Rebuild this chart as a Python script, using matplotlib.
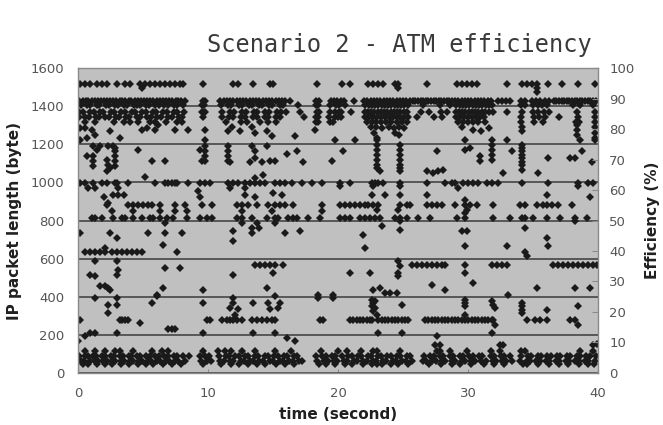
import matplotlib
matplotlib.use("Agg")
import matplotlib.pyplot as plt

plt.rcParams['font.family'] = ['DejaVu Sans']

# ---- packet trace: time (s) and IP packet length (byte) ----
# maximum-size packets
top_len = 1517
top_t = [0.15, 0.54, 0.92, 1.44, 1.82, 2.2, 2.97, 3.6, 4.0, 4.77, 5.15, 5.54, 5.92, 6.3,
         6.7, 7.08, 7.46, 7.85, 8.1, 9.64, 11.95, 12.33, 13.49, 14.77, 15.03, 18.36, 20.28,
         20.92, 22.33, 22.71, 23.1, 23.48, 24.38, 24.64, 26.82, 29.12, 29.51, 29.9, 30.28,
         30.66, 32.97, 34.12, 34.51, 34.9, 35.28, 36.18, 37.2, 38.48, 39.77]

# dense band of large packets
band_1430_t = [0.1, 0.35, 0.6, 0.8, 1.05, 1.3, 1.5, 1.75, 2.0, 2.2, 2.45, 2.7, 2.95, 3.2, 3.4,
               3.65, 3.9, 4.1, 4.35, 4.6, 4.85, 5.1, 5.3, 5.55, 5.8, 6.05, 6.3, 6.5, 6.75, 7.0,
               7.25, 7.5, 7.7, 7.95, 8.2, 9.6, 9.75, 10.95, 11.2, 11.45, 11.7, 11.95, 12.2,
               12.45, 12.7, 12.95, 13.2, 13.45, 13.7, 13.95, 14.2, 14.45, 14.7, 14.95, 15.2,
               15.45, 15.7, 15.95, 16.3, 18.3, 18.5, 19.45, 19.7, 19.95, 20.2, 20.45, 21.2,
               22.0, 22.25, 22.5, 22.75, 23.0, 23.25, 23.5, 23.75, 24.0, 24.25, 24.5, 24.75,
               25.0, 25.25, 25.5, 25.75, 25.95, 26.15, 26.35, 26.55, 26.75, 26.95, 27.15,
               27.35, 27.55, 27.75, 27.95, 28.15, 28.35, 28.55, 28.75, 29.0, 29.25, 29.5,
               29.75, 30.0, 30.25, 30.5, 30.75, 31.0, 31.25, 31.5, 31.75, 32.3, 32.6, 32.9,
               33.2, 34.1, 34.4, 34.9, 35.2, 35.5, 35.9, 36.2, 36.6, 36.8, 37.0, 37.2, 37.4,
               37.6, 37.8, 38.0, 38.2, 38.4, 38.6, 38.8, 39.0, 39.2, 39.4, 39.6, 39.85]
band_1405_t = [0.2, 0.7, 0.95, 1.45, 1.65, 2.15, 2.4, 2.85, 3.1, 3.55, 3.8, 4.3, 4.5, 4.75,
               5.25, 5.45, 5.95, 6.2, 6.65, 6.9, 7.4, 7.6, 8.1, 9.55, 9.7, 11.0, 11.55, 11.8,
               12.35, 12.6, 13.15, 13.4, 13.9, 14.15, 14.7, 14.95, 15.5, 15.8, 16.9, 18.3,
               18.45, 19.4, 19.85, 20.1, 20.55, 22.1, 22.35, 22.6, 22.85, 23.1, 23.35, 23.6,
               23.85, 24.1, 24.35, 24.6, 24.85, 25.1, 25.35, 26.55, 27.85, 28.6, 29.1, 29.35,
               29.6, 29.85, 30.1, 30.35, 30.6, 30.85, 31.1, 31.35, 31.6, 31.85, 34.1, 34.35,
               35.0, 35.35, 35.7, 36.1, 38.1, 38.6, 39.6]
band_1370_t = [0.1, 0.4, 0.9, 1.2, 1.7, 1.95, 2.5, 2.75, 3.3, 3.6, 4.15, 4.4, 4.95, 5.2,
               5.75, 6.0, 6.55, 6.85, 7.35, 7.65, 8.15, 9.5, 9.65, 9.8, 11.1, 11.7, 12.0,
               12.6, 12.9, 13.5, 13.8, 14.4, 14.7, 15.3, 15.6, 16.0, 17.1, 18.35, 18.5,
               19.35, 19.8, 20.05, 20.25, 21.0, 22.05, 22.3, 22.55, 22.8, 23.05, 23.3, 23.55,
               23.8, 24.05, 24.3, 24.55, 24.8, 25.05, 25.3, 26.4, 27.0, 27.9, 28.4, 29.05,
               29.3, 29.55, 29.8, 30.05, 30.3, 30.55, 30.8, 31.05, 31.3, 31.6, 31.9, 33.0,
               34.15, 35.0, 35.4, 35.85, 36.25, 38.4, 39.8]
band_1345_t = [0.05, 0.55, 0.85, 1.35, 1.6, 2.1, 2.35, 2.9, 3.15, 3.7, 3.95, 4.5, 4.8,
               5.3, 5.6, 6.1, 6.4, 6.9, 7.2, 7.75, 8.0, 9.6, 11.05, 11.65, 11.95, 12.55,
               12.85, 13.45, 13.75, 14.35, 14.65, 15.25, 15.55, 17.4, 18.3, 18.45, 19.3,
               19.75, 20.0, 20.2, 22.1, 22.4, 22.7, 23.0, 23.3, 23.6, 23.9, 24.2, 24.5,
               24.8, 25.1, 25.4, 26.1, 27.4, 28.0, 29.1, 29.4, 29.7, 30.0, 30.3, 30.6, 30.9,
               31.2, 34.1, 35.05, 35.45, 35.9, 37.0, 38.45, 39.75]
band_1318_t = [0.5, 1.3, 2.8, 3.5, 4.0, 4.6, 5.5, 5.9, 6.8, 7.6, 8.0, 11.4, 12.5, 13.0,
               14.0, 14.6, 15.2, 18.3, 18.45, 19.4, 19.6, 22.2, 22.6, 22.9, 23.3, 23.7, 24.1,
               24.5, 24.9, 25.3, 29.2, 29.6, 30.0, 30.4, 30.8, 31.3, 34.1, 35.1, 35.8, 38.3,
               38.5, 39.75]

# recurring packet sizes in the middle range
row_1000_t = [0.15, 0.54, 1.18, 1.82, 2.2, 2.85, 3.0, 3.87, 5.92, 6.69, 6.95, 7.2, 7.46, 7.6,
              8.49, 9.38, 9.77, 10.15, 11.56, 11.95, 12.33, 12.85, 13.23, 13.62, 14.0, 14.38,
              15.15, 15.54, 15.92, 16.44, 17.2, 17.97, 18.74, 20.15, 20.92, 22.59, 22.84,
              23.1, 23.48, 24.77, 26.82, 28.23, 28.74, 29.0, 29.64, 30.02, 30.41, 30.79,
              31.43, 31.82, 32.33, 34.12, 36.18, 38.48, 39.25, 39.64]
row_880_t = [2.2, 3.87, 4.26, 4.64, 5.03, 5.41, 5.67, 6.31, 7.46, 8.23, 9.51, 10.28, 12.2,
             12.59, 13.1, 13.74, 14.64, 15.15, 15.54, 15.92, 16.56, 18.74, 20.15, 20.54,
             20.92, 21.3, 21.69, 22.07, 22.33, 22.71, 23.1, 24.77, 25.28, 25.53, 26.82, 27.2,
             27.59, 27.97, 29.0, 29.77, 30.15, 30.66, 31.95, 34.0, 34.38, 35.28, 35.79,
             36.05, 36.43, 36.95, 37.97]
row_816_t = [1.05, 1.31, 1.82, 2.72, 3.36, 3.62, 4.26, 4.9, 5.54, 5.79, 6.31, 6.82, 7.33,
             8.36, 9.38, 9.9, 10.28, 12.2, 12.59, 13.36, 14.51, 15.15, 15.41, 16.18, 16.56,
             16.82, 17.72, 18.62, 20.15, 20.54, 20.92, 21.69, 22.07, 22.46, 22.84, 23.23,
             24.38, 24.77, 25.28, 26.18, 27.07, 29.12, 29.77, 31.95, 33.23, 34.12, 34.38,
             35.02, 36.05, 37.07, 38.23, 39.12]
row_637_t = [0.54, 0.92, 1.31, 1.69, 2.08, 2.59, 2.97, 3.36, 3.74, 4.13, 4.51, 4.9, 7.59]
row_567_t = [13.62, 14.0, 14.38, 14.77, 15.15, 15.79, 25.66, 26.05, 26.43, 26.82, 27.2,
             27.59, 27.97, 28.23, 29.77, 31.82, 32.2, 32.59, 32.97, 36.56, 36.95, 37.33,
             37.72, 38.1, 38.48, 38.87, 39.25, 39.64, 39.9]
row_275_t = [0.15, 3.23, 3.36, 3.62, 3.87, 9.9, 10.15, 11.05, 11.44, 11.69, 11.95, 12.2,
             12.59, 13.36, 13.74, 14.13, 14.51, 14.9, 15.15, 18.62, 18.87, 20.92, 21.18,
             21.43, 21.69, 21.95, 22.2, 22.46, 22.59, 23.1, 23.36, 23.61, 23.87, 24.12,
             24.38, 24.64, 24.89, 25.15, 25.41, 26.69, 26.95, 27.2, 27.46, 27.71, 27.97,
             28.23, 28.48, 28.74, 29.0, 29.25, 29.51, 29.77, 30.02, 30.28, 30.53, 30.79,
             31.05, 31.3, 31.56, 31.82, 31.95, 34.51, 35.15, 35.53, 36.05, 37.84, 38.23]
row_231_t = [6.95, 7.2, 7.46]

# isolated packets (time, length)
scatter_pts = [
    (4.9, 1496), (24.64, 1496), (35.28, 1496), (35.28, 1478),
    (0.15, 1285), (0.54, 1285), (1.05, 1277), (0.15, 1224), (0.67, 1233), (1.31, 1250),
    (2.46, 1268), (3.23, 1233), (4.9, 1277), (5.28, 1285), (5.92, 1277), (6.18, 1303),
    (7.46, 1277), (8.49, 1277), (9.77, 1277), (9.77, 1224), (11.56, 1268), (12.46, 1268),
    (11.82, 1294), (13.36, 1294), (13.62, 1259), (14.51, 1268), (14.9, 1242),
    (16.69, 1242), (18.23, 1277), (19.77, 1224),
    (22.5, 1290), (22.9, 1290), (23.4, 1285), (23.9, 1290), (24.3, 1285), (24.7, 1290),
    (25.1, 1285), (22.8, 1260), (23.0, 1233), (24.4, 1260), (24.7, 1250),
    (34.12, 1290), (34.12, 1268), (38.35, 1303), (38.35, 1277), (38.35, 1250),
    (39.77, 1294), (39.77, 1259), (39.77, 1233), (29.5, 1290), (30.4, 1277), (31.0, 1268),
    (31.6, 1285),
    (1.18, 1189), (1.44, 1172), (1.69, 1189), (2.33, 1189), (2.72, 1189), (2.85, 1180),
    (2.85, 1163), (4.64, 1172), (9.38, 1172), (9.77, 1189), (9.77, 1163), (9.77, 1137),
    (9.77, 1114), (11.56, 1189), (11.56, 1163), (11.56, 1137), (11.56, 1114),
    (13.36, 1189), (13.62, 1163), (14.51, 1189), (16.05, 1149), (16.82, 1163),
    (0.67, 1137), (1.18, 1137), (1.18, 1114), (1.18, 1084), (2.2, 1120), (2.85, 1137),
    (2.85, 1114), (2.85, 1084), (2.33, 1093), (2.46, 1075), (5.67, 1114), (6.69, 1114),
    (9.51, 1114), (11.69, 1110), (13.23, 1110), (13.62, 1128), (14.13, 1110),
    (14.77, 1114), (15.15, 1114), (17.33, 1110), (19.51, 1114), (2.2, 1058),
    (5.15, 1031), (13.62, 1023), (14.26, 1040), (0.8, 970), (1.31, 970), (3.1, 970),
    (11.69, 970), (12.85, 970), (9.26, 953), (2.0, 926), (2.72, 935), (3.1, 935),
    (3.5, 935), (9.4, 926), (12.85, 935), (13.62, 926), (15.03, 944), (15.67, 935),
    (2.33, 890), (2.59, 848), (4.26, 848), (6.31, 848), (7.46, 848), (8.36, 848),
    (12.59, 848), (14.9, 848), (18.74, 848),
    (6.69, 786), (12.59, 786), (13.74, 786), (15.15, 786), (13.36, 760), (13.9, 760),
    (0.15, 734), (2.46, 734), (5.41, 734), (6.69, 734), (7.97, 734), (11.95, 743),
    (13.36, 734), (15.92, 734), (17.08, 743), (2.97, 708), (11.95, 690), (6.56, 672),
    (2.08, 655), (1.31, 585), (2.97, 585), (3.1, 541), (6.69, 550), (7.85, 550),
    (0.92, 515), (1.31, 506), (11.95, 515), (15.03, 524), (2.97, 515),
    (1.69, 454), (2.08, 454), (2.33, 445), (2.46, 436), (6.56, 445), (14.51, 445),
    (9.64, 436), (6.05, 410), (6.05, 401), (15.15, 401), (18.49, 410), (18.49, 392),
    (19.64, 410), (19.64, 392), (1.31, 392), (2.97, 392), (11.95, 392), (5.67, 366),
    (9.64, 366), (11.95, 366), (13.49, 366), (14.64, 366), (15.54, 366), (2.33, 357),
    (2.97, 357), (11.69, 340), (15.41, 340), (12.33, 336), (14.77, 336), (2.33, 313),
    (12.08, 305), (4.77, 261), (0.92, 208), (1.31, 208), (2.97, 208), (9.64, 208),
    (13.49, 208), (15.15, 208), (0.54, 191), (16.05, 182), (0.03, 165), (16.69, 165),
    (21.3, 1224), (22.97, 1224), (29.77, 1224), (31.82, 1224), (32.97, 1224),
    (38.61, 1224), (39.77, 1224),
    (22.97, 1198), (22.97, 1172), (22.97, 1146), (22.97, 1119), (22.97, 1093),
    (22.97, 1075), (24.77, 1198), (24.77, 1172), (24.77, 1146), (24.77, 1119),
    (24.77, 1093), (24.77, 1075), (31.82, 1198), (31.82, 1172), (31.82, 1146),
    (31.82, 1120), (34.12, 1198), (34.12, 1180), (34.12, 1163), (34.12, 1146),
    (34.12, 1128), (34.12, 1110), (34.12, 1093), (34.12, 1067),
    (20.35, 1163), (27.59, 1163), (29.77, 1172), (30.15, 1180), (30.92, 1137),
    (30.92, 1114), (33.36, 1163), (36.18, 1128), (37.84, 1128), (38.23, 1128),
    (38.74, 1163), (39.51, 1110),
    (26.82, 1058), (27.33, 1049), (27.71, 1058), (28.1, 1067), (32.72, 1049),
    (35.4, 1049), (23.23, 1058), (24.77, 1058),
    (20.15, 979), (22.71, 979), (24.77, 979), (29.25, 970), (38.48, 979),
    (22.59, 935), (23.61, 935), (24.77, 935), (26.82, 935), (36.05, 935), (39.38, 926),
    (29.77, 909), (22.97, 856), (24.64, 856), (29.9, 856), (29.77, 839), (24.77, 795),
    (38.23, 795), (23.36, 769), (24.77, 751), (29.51, 743), (29.9, 743), (21.95, 725),
    (34.38, 760), (36.05, 708), (29.77, 664), (32.97, 664), (36.18, 664), (22.07, 655),
    (34.38, 637), (34.51, 611), (24.64, 585), (24.77, 559), (20.92, 524), (22.46, 524),
    (24.64, 524), (29.77, 524), (24.64, 506), (30.41, 471), (27.2, 462), (28.23, 436),
    (35.28, 445), (38.23, 445), (39.38, 445), (22.71, 436), (23.23, 445), (23.61, 419),
    (24.0, 419), (24.51, 419), (33.1, 410),
    (22.59, 384), (22.84, 375), (22.71, 366), (22.59, 349), (22.84, 340), (22.71, 322),
    (22.97, 305), (24.89, 357), (29.77, 384), (29.77, 366), (29.77, 349), (31.82, 375),
    (31.95, 357), (32.07, 340), (34.12, 366), (34.12, 349), (34.12, 331), (34.12, 313),
    (36.05, 331), (38.48, 349), (29.77, 305), (32.07, 252), (38.48, 252),
    (23.1, 208), (24.89, 208), (31.82, 208), (27.59, 191), (27.46, 147), (27.84, 147),
    (32.46, 147), (32.72, 147), (39.64, 147), (39.9, 150),
]

# small packets (ACKs and short frames)
small_115_t = [0.54, 1.31, 2.08, 2.85, 3.23, 4.26, 5.67, 6.44, 6.95, 9.64, 10.8, 11.3,
               11.8, 12.6, 13.6, 15.15, 16.4, 18.7, 20.0, 20.66, 21.8, 22.7, 22.97, 24.77,
               27.6, 27.84, 28.6, 29.9, 31.8, 32.46, 34.1, 34.38, 38.6, 39.6]
small_88_t = [0.1, 0.5, 0.75, 1.15, 1.4, 1.85, 2.05, 2.5, 2.75, 3.2, 3.45, 3.9, 4.1, 4.55,
              4.8, 5.25, 5.5, 5.95, 6.2, 6.65, 6.9, 7.35, 7.6, 8.1, 8.5, 9.35, 9.8, 10.05,
              10.85, 11.35, 11.6, 12.1, 12.35, 12.85, 13.1, 13.6, 13.85, 14.35, 14.6, 15.1,
              15.35, 15.85, 16.1, 16.6, 16.85, 18.3, 18.8, 19.05, 19.55, 19.8, 20.3, 20.8,
              21.05, 21.55, 21.8, 22.3, 22.55, 23.05, 23.3, 23.8, 24.05, 24.55, 24.8, 25.3,
              25.55, 26.6, 27.1, 27.35, 27.85, 28.1, 28.6, 28.85, 29.35, 29.6, 30.1, 30.35,
              30.85, 31.1, 31.75, 32.0, 32.5, 32.75, 33.25, 34.1, 34.6, 34.85, 35.35, 35.6,
              36.1, 36.35, 36.85, 37.1, 37.6, 37.85, 38.35, 38.6, 39.1, 39.35, 39.85]
small_64_t = [0.2, 0.45, 0.9, 1.3, 1.55, 1.95, 2.2, 2.65, 2.85, 3.3, 3.55, 4.0, 4.25, 4.7,
              4.95, 5.4, 5.6, 6.1, 6.3, 6.75, 7.0, 7.45, 7.7, 8.2, 9.45, 9.95, 10.2, 10.95,
              11.2, 11.7, 11.95, 12.5, 12.75, 13.2, 13.45, 13.95, 14.2, 14.75, 15.0, 15.5,
              15.75, 16.25, 16.5, 17.0, 17.25, 18.4, 18.95, 19.2, 19.7, 19.95, 20.45, 20.7,
              21.2, 21.45, 21.95, 22.2, 22.7, 22.95, 23.45, 23.7, 24.2, 24.45, 24.95, 25.2,
              25.7, 26.5, 26.75, 27.25, 27.5, 28.0, 28.25, 28.75, 29.0, 29.5, 29.75, 30.25,
              30.5, 31.0, 31.4, 31.9, 32.15, 32.65, 32.9, 33.4, 34.0, 34.5, 34.75, 35.25,
              35.5, 36.0, 36.25, 36.75, 37.0, 37.5, 37.75, 38.25, 38.5, 39.0, 39.25, 39.75]
small_48_t = [0.35, 0.8, 1.45, 2.1, 2.6, 3.3, 3.95, 4.6, 5.2, 5.8, 6.5, 7.2, 7.9, 9.6,
              11.0, 11.75, 12.4, 13.05, 13.8, 14.4, 15.2, 15.9, 16.6, 18.5, 19.1, 19.8,
              20.5, 21.1, 21.9, 22.6, 23.0, 23.4, 24.1, 24.6, 25.4, 27.0, 27.9, 28.8, 29.4,
              30.2, 31.2, 32.0, 32.8, 34.2, 34.5, 35.4, 36.2, 37.0, 37.7, 38.5, 39.2, 39.7]

rows = [(top_t, top_len), (band_1430_t, 1430), (band_1405_t, 1405), (band_1370_t, 1370),
        (band_1345_t, 1345), (band_1318_t, 1318), (row_1000_t, 998), (row_880_t, 879),
        (row_816_t, 815), (row_637_t, 637), (row_567_t, 567), (row_275_t, 275),
        (row_231_t, 231), (small_115_t, 115), (small_88_t, 88), (small_64_t, 64),
        (small_48_t, 48)]

times = []
lengths = []
for ts, length in rows:
    times.extend(ts)
    lengths.extend([length] * len(ts))
for t, length in scatter_pts:
    times.append(t)
    lengths.append(length)

# ---- figure ----
fig = plt.figure(figsize=(6.63, 4.25), dpi=100)
ax = fig.add_axes([78 / 663, 1 - 372.7 / 425, 520 / 663, 304.4 / 425])
ax.set_facecolor('#c0c0c0')
ax.set_xlim(0, 40)
ax.set_ylim(0, 1600)
ax.set_xticks([0, 10, 20, 30, 40])
ax.set_yticks(range(0, 1601, 200))
ax.yaxis.grid(True, color='#575757', linewidth=1.4)
ax.set_axisbelow(True)

ax.plot(times, lengths, linestyle='none', marker='D', markersize=3.7,
        color='#1a1a1a', markeredgewidth=0)

for sp in ax.spines.values():
    sp.set_color('#8a8a8a')
    sp.set_linewidth(1.0)

tick_color = '#555555'
ax.tick_params(axis='both', direction='in', length=3, color='#8a8a8a',
               labelsize=9.5, labelcolor=tick_color)
ax.tick_params(axis='y', length=0, pad=10)
ax.tick_params(axis='x', pad=10)

ax2 = ax.twinx()
ax2.set_ylim(0, 100)
ax2.set_yticks(range(0, 101, 10))
ax2.tick_params(axis='y', direction='in', length=4, color='#8a8a8a',
                labelsize=9.5, labelcolor=tick_color, pad=8)
for sp in ax2.spines.values():
    sp.set_visible(False)

ax.set_xlabel('time (second)', fontsize=11, fontweight='bold', color='#202020', labelpad=5)
ax.set_ylabel('IP packet length (byte)', fontsize=11, fontweight='bold', color='#202020',
              labelpad=6)
ax2.set_ylabel('Efficiency (%)', fontsize=11, fontweight='bold', color='#202020',
               labelpad=8)

fig.text(0.603, 1 - 45 / 425, 'Scenario 2 - ATM efficiency', ha='center', va='center',
         fontsize=17, color='#3a3a3a', family='DejaVu Sans Mono')

fig.savefig('out.png', dpi=100)
